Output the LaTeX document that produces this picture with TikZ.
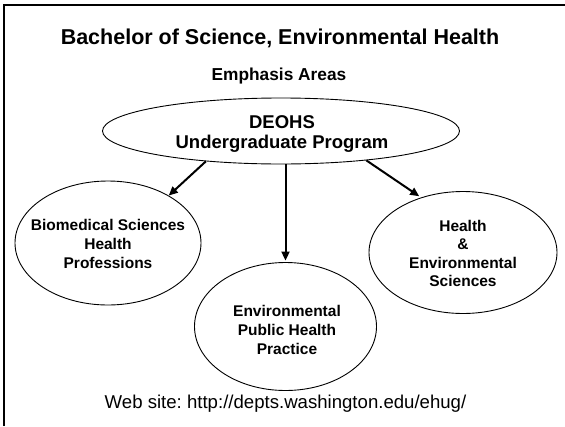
\documentclass[tikz,border=0pt]{standalone}
\usepackage{fontspec}
\setmainfont{Liberation Sans}
\frenchspacing
\usetikzlibrary{shapes.geometric,arrows.meta}
\begin{document}
\begin{tikzpicture}[x=1pt,y=1pt,
  oval/.style={ellipse,draw,line width=0.9pt,inner sep=0pt},
  lbl/.style={align=center,font=\fontsize{15.5}{19}\selectfont\bfseries},
  arr/.style={line width=2pt,-{Triangle[length=9pt,width=8pt]}}]
\useasboundingbox (0,0) rectangle (565,-426);
\fill[white] (0,0) rectangle (565,-426);
\coordinate (tl) at (4,-5);
\coordinate (tr) at (565,-5);
\coordinate (bl) at (4,-426);
\draw[line width=2pt] (bl) -- (tl) -- (tr);
\node[anchor=base,font=\fontsize{21.5}{25}\selectfont\bfseries] (title) at (280,-44) {Bachelor of Science, Environmental Health};
\node[anchor=base,font=\fontsize{17.3}{20}\selectfont\bfseries] (emph) at (279,-80.5) {Emphasis Areas};
\node[oval,minimum width=357pt,minimum height=66pt] (deohs) at (281,-131) {};
\node[align=center,font=\fontsize{18.5}{20}\selectfont\bfseries] (deohst) at (282,-133.6) {DEOHS\\Undergraduate Program};
\node[oval,minimum width=186pt,minimum height=124pt] (bio) at (108,-243) {};
\node[lbl] (biot) at ([yshift=-0.5pt]bio.center) {Biomedical Sciences\\Health\\Professions};
\node[oval,minimum width=182pt,minimum height=128pt] (ep) at (285.5,-326.5) {};
\node[lbl] (ept) at ([shift={(1.5pt,-3.2pt)}]ep.center) {Environmental\\Public Health\\Practice};
\node[oval,minimum width=188pt,minimum height=122pt] (hes) at (463,-252.5) {};
\node[lbl,font=\fontsize{15.5}{18.3}\selectfont\bfseries] (hest) at ([yshift=-1pt]hes.center) {Health\\\&\\Environmental\\Sciences};
\draw[arr] (deohs.202.8) -- (bio.38.7);
\draw[arr] (ep.north |- deohs.south) -- ([yshift=1.5pt]ep.north);
\draw[arr] (deohs.-19.3) -- ([shift={(-1pt,1.5pt)}]hes.128.9);
\node[anchor=base,font=\fontsize{18.6}{22}\selectfont] (web) at (285.5,-408.5) {Web site: http://depts.washington.edu/ehug/};
\end{tikzpicture}
\end{document}
